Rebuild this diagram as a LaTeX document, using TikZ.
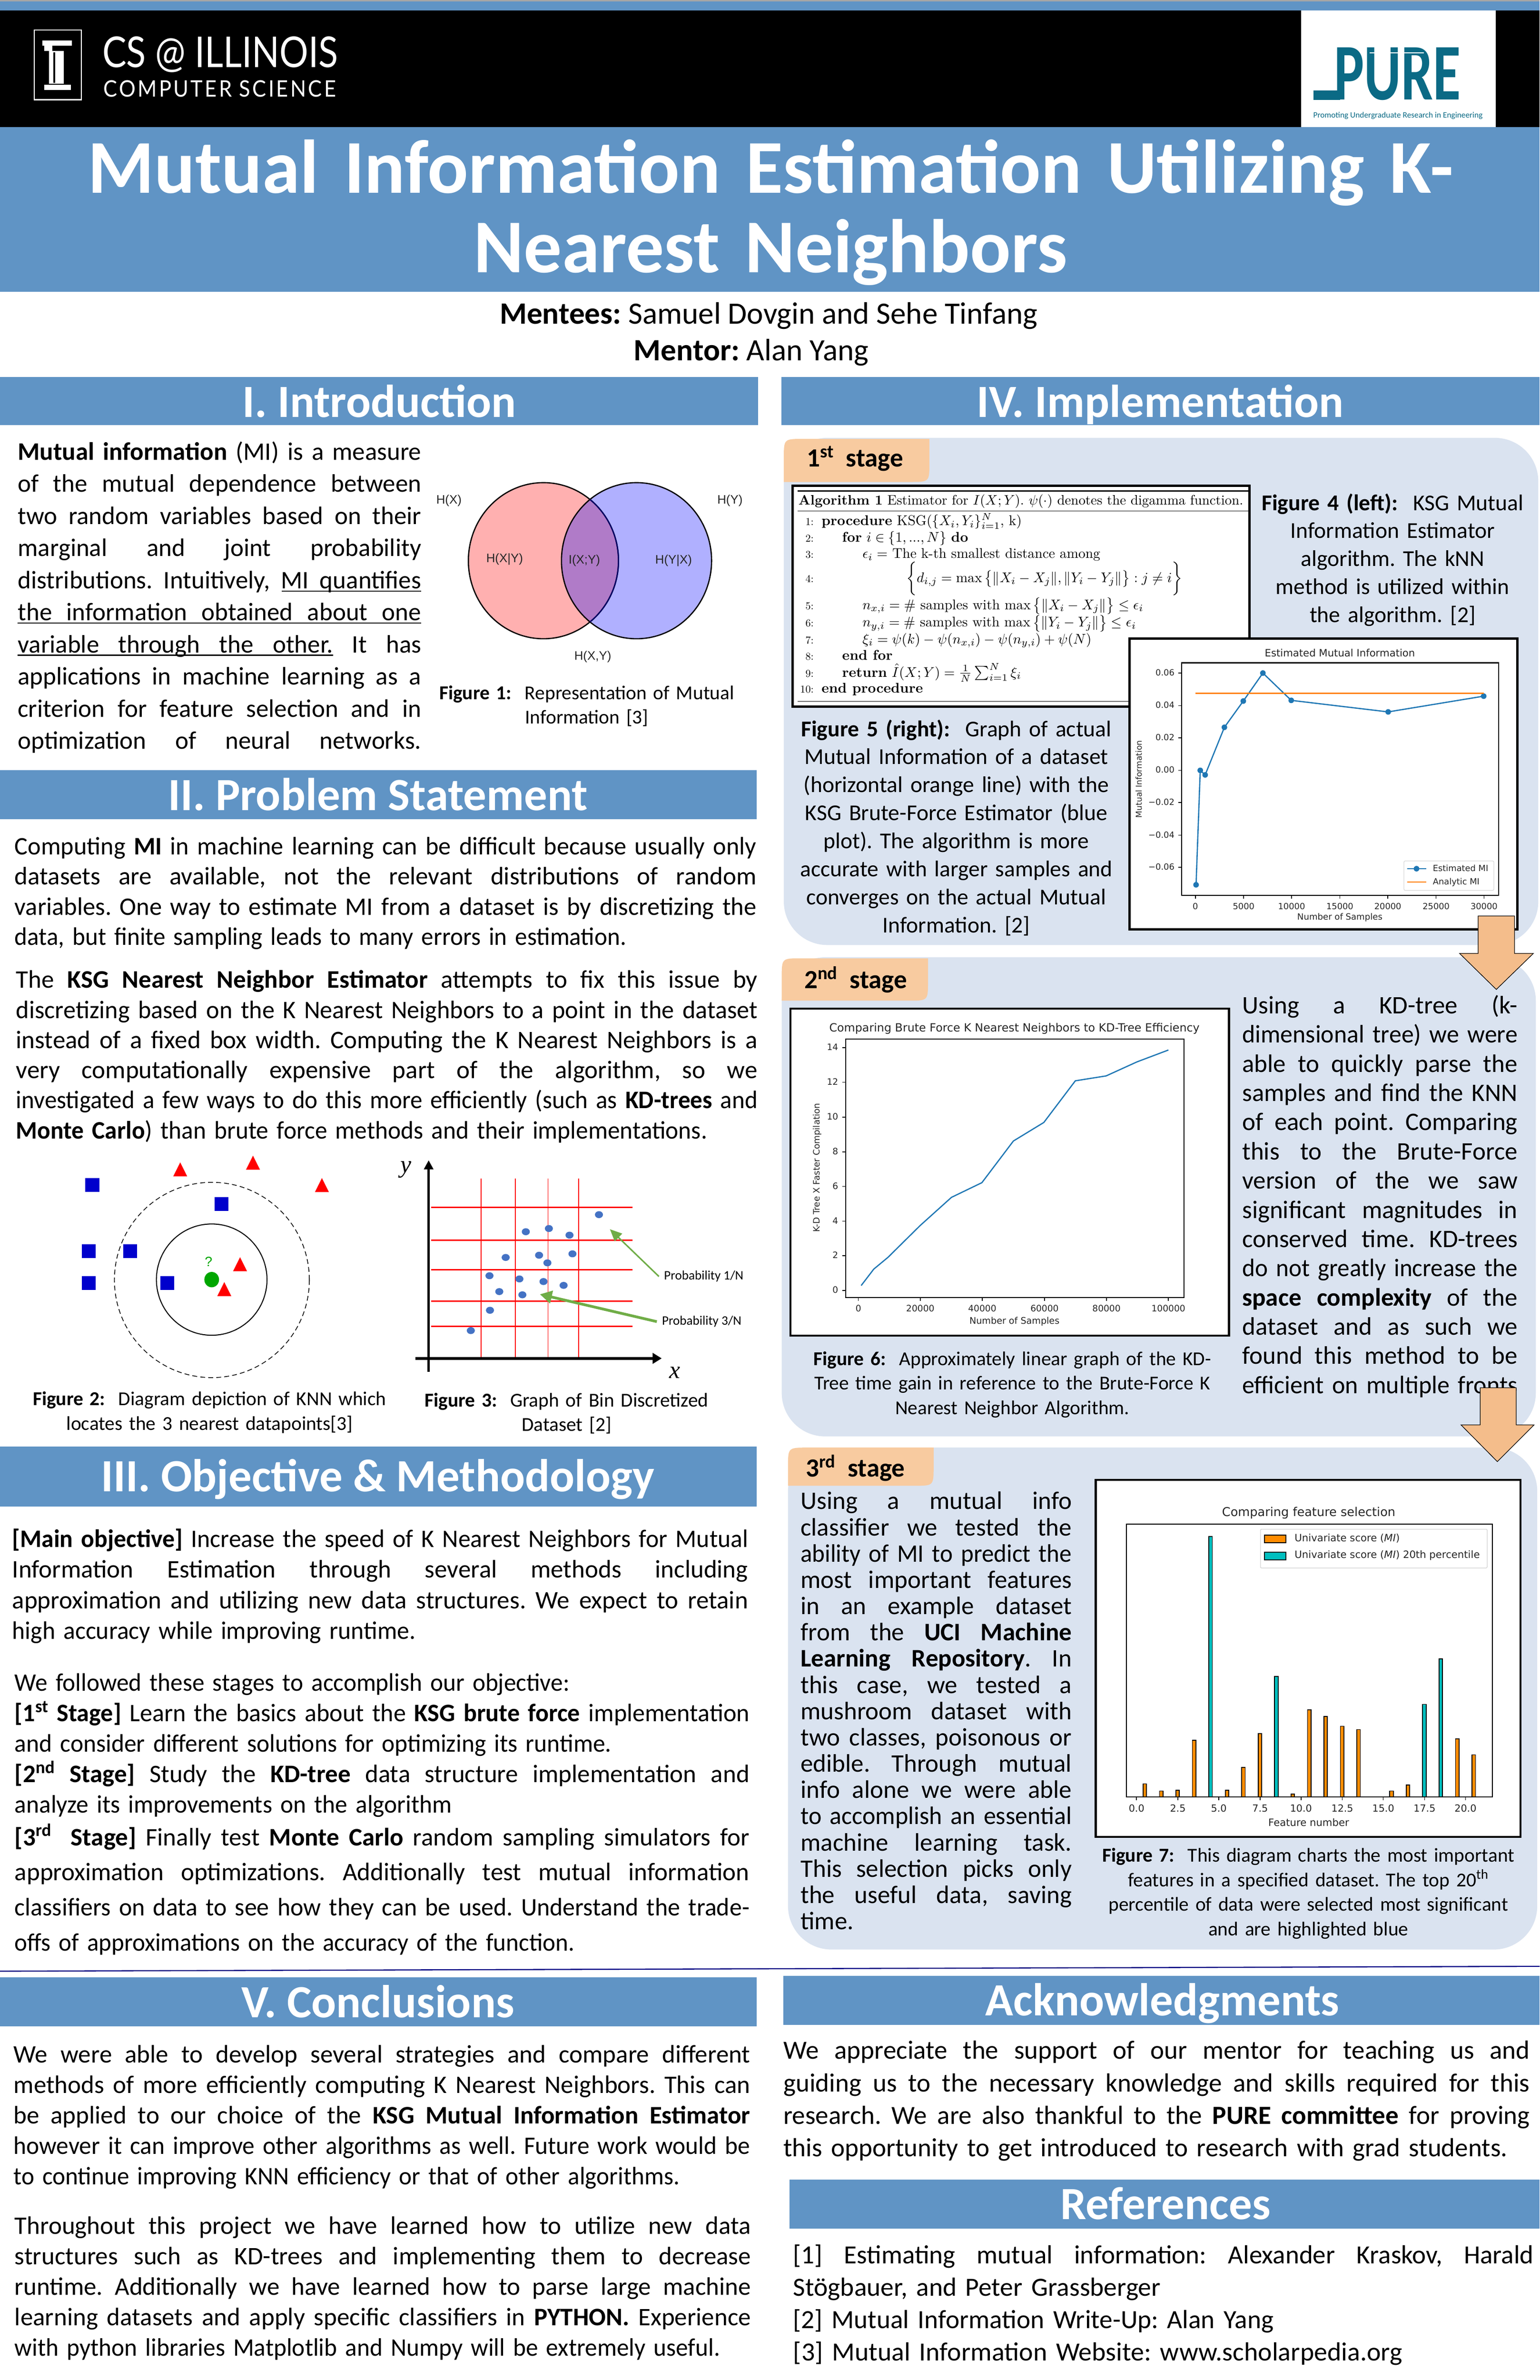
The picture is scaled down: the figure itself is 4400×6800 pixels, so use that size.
\documentclass[tikz,border=0pt]{standalone}
\usepackage{fontspec}
\usepackage{graphicx}
\usetikzlibrary{arrows.meta}
\newfontfamily\cb{Carlito}
\newfontfamily\djv{DejaVu Sans}
\newfontfamily\las{Liberation Sans}
\newfontfamily\lts{Liberation Serif}
\newfontfamily\lat{Lato}
\definecolor{band}{HTML}{6094C5}
\definecolor{panel}{HTML}{DAE3F0}
\definecolor{tabc}{HTML}{F8CBA0}
\definecolor{arrc}{HTML}{F4BD8B}
\definecolor{mplb}{HTML}{1F77B4}
\definecolor{mplo}{HTML}{FF7F0E}
\definecolor{barO}{HTML}{FF8C00}
\definecolor{barT}{HTML}{00BFBF}
\definecolor{greenA}{HTML}{70AD47}
\definecolor{dotb}{HTML}{4472C4}
\definecolor{pureT}{HTML}{0B6A85}
\definecolor{vennR}{HTML}{FFB0B0}
\definecolor{vennB}{HTML}{B0B0FF}
\definecolor{vennP}{HTML}{B07BC8}
\frenchspacing
\newdimen\pxu \pxu=0.28453pt
\newdimen\pitch
\newcommand\setp[1]{\pitch=#1\pxu\relax\baselineskip=\pitch\lineskiplimit=-200pt\relax\par\vskip-.25\pitch\relax}
\newcommand\sstrut{\vrule width 0pt height .75\pitch depth .25\pitch\relax}
\newcommand\JL[1]{\setbox0=\hbox{#1}%
  \ifdim\wd0>\hsize
    \pgfmathsetmacro\rr{\hsize/\wd0}\hbox to \hsize{\sstrut\scalebox{\rr}[1]{\box0}\hss}%
  \else
    \hbox to \hsize{\sstrut\spaceskip=.226em plus 1fil\relax #1}%
  \fi}
\newcommand\WL[2]{\setbox0=\hbox{#2}\pgfmathsetmacro\rr{#1*\pxu/\wd0}\hbox to \hsize{\sstrut\scalebox{\rr}[1]{\box0}\hss}}
\newcommand\LL[1]{\hbox to \hsize{\sstrut #1\hfil}}
\newcommand\CL[1]{\hbox to \hsize{\sstrut\hfil #1\hfil}}
\newcommand\fnt[1]{\fontsize{#1}{#1}\selectfont}
\newcommand\sps[1]{\textsuperscript{#1}}
\tikzset{
 para/.style={anchor=north west,inner sep=0pt,outer sep=0pt,text width={#1*0.01cm}},
 bodyA/.style={font={\cb\fnt{20.5}}},
 bodyB/.style={font={\cb\fnt{21.3}}},
 capA/.style={font={\cb\fnt{18.4}}},
 capB/.style={font={\cb\fnt{16.0}}},
 headtxt/.style={anchor=base,inner sep=0pt,text=white,font={\cb\bfseries\fnt{37.5}}},
 bandfill/.style={fill=band},
 panelfill/.style={fill=panel,rounded corners=1.24cm},
 tabfill/.style={fill=tabc},
 stagetxt/.style={anchor=base west,inner sep=0pt,font={\cb\bfseries\fnt{21.3}}},
 chartbox/.style={draw=black,line width=1.8pt,fill=white},
 axl/.style={draw=black,line width=0.9pt},
 tkm/.style={draw=black,line width=0.6pt},
 tickA/.style={inner sep=0pt,font={\djv\fnt{6.9}},text=black!85},
 tickB/.style={inner sep=0pt,font={\djv\fnt{7.2}},text=black!85},
 tickC/.style={inner sep=0pt,font={\djv\fnt{8}},text=black!85},
 arrowbox/.style={fill=arrc,draw=black,line width=0.5pt},
 alg/.style={inner sep=0pt,scale=1.14},
 algn/.style={anchor=base east,inner sep=0pt,scale=0.86},
 vlab/.style={inner sep=0pt,font={\las\fnt{10}},text=black!85},
 reddot/.style={fill=dotb},
 sq/.style={fill=blue!80!black},
 tri/.style={fill=red},
 gridr/.style={draw=red,line width=0.7pt},
 gridh/.style={draw=red,line width=1.1pt},
 plab/.style={anchor=west,inner sep=4pt,font={\cb\fnt{10.5}}},
 ulin/.style={draw=black,line width=1pt},
}
\begin{document}
\begin{tikzpicture}[x=0.01cm,y=-0.01cm]
\useasboundingbox (0,0) rectangle (4400,6800);
\fill[white] (0,0) rectangle (4400,6800);
% top bands
\fill[black!35] (0,0) rectangle (4400,4);
\fill[band] (0,4) rectangle (4400,30);
\fill[black] (0,30) rectangle (4400,363);
\fill[white] (3718,30) rectangle (4274,363);
\fill[band] (0,363) rectangle (4400,834);
% Illinois logo
\draw[white,line width=0.9pt] (98,86) rectangle (233,285);
\fill[white] (121,116) rectangle (205,130);
\fill[white] (126,130) rectangle (150,146);
\fill[white] (140,146) rectangle (182,239);
\fill[white] (126,242) rectangle (202,257);
\fill[black] (152,150) rectangle (158,236);
\node[anchor=base west,inner sep=0pt,text=white] (csill) at (292,193) {\scalebox{1}[1.18]{\lat\fnt{29.3}CS @ ILLINOIS}};
\node[anchor=base west,inner sep=0pt,text=white] (cscs) at (295,277) {\scalebox{1}[1.1]{\lat\addfontfeature{LetterSpace=10}\fnt{16.8}COMPUTER SCIENCE}};
% PURE logo
\node[anchor=base west,inner sep=0pt,text=pureT] (purel) at (3812,285) {\scalebox{1.0}[1.42]{\cb\bfseries\fnt{46}PURE}};
\fill[pureT] (3754,258) rectangle (3830,285);
\draw[white,line width=0.5pt] (3914,151) -- (4069,151);
\node[anchor=center,inner sep=0pt,text=pureT] (purem) at (3995,330) {\cb\fnt{6.7}Promoting Undergraduate Research in Engineering};
% title
\node[para=4404,text=white,font={\cb\bfseries\fnt{61.8}}] (title) at (0,380) {\setp{228}\CL{Mutual Information Estimation Utilizing K-}\CL{Nearest Neighbors}};
\node[anchor=base,inner sep=0pt,font={\cb\fnt{25.2}}] (mentees) at (2197,925) {\textbf{Mentees:} Samuel Dovgin and Sehe Tinfang};
\node[anchor=base,inner sep=0pt,font={\cb\fnt{25.2}}] (mentor) at (2147,1030) {\textbf{Mentor:} Alan Yang};
% section bands
\fill[bandfill] (0,1077) rectangle (2166,1214);
\fill[bandfill] (2233,1077) rectangle (4400,1214);
\fill[bandfill] (0,2201) rectangle (2163,2341);
\fill[bandfill] (0,4133) rectangle (2163,4305);
\fill[bandfill] (0,5650) rectangle (2163,5789);
\fill[bandfill] (2239,5645) rectangle (4400,5785);
\fill[bandfill] (2256,6228) rectangle (4400,6368);
\node[headtxt] (h1) at (1084,1192) {I. Introduction};
\node[headtxt] (h4) at (3316,1192) {IV. Implementation};
\node[headtxt] (h2) at (1080,2315) {II. Problem Statement};
\node[headtxt] (h3) at (1080,4261) {III. Objective \& Methodology};
\node[headtxt] (h5) at (1080,5764) {V. Conclusions};
\node[headtxt] (h6) at (3322,5759) {Acknowledgments};
\node[headtxt] (h7) at (3331,6341) {References};
% separator
\draw[draw=blue!50!black,line width=0.9pt] (0,5632) -- (4400,5618);
% Intro
\node[para=1153,bodyA] (intro) at (51,1245) {\setp{91.8}%
\JL{\textbf{Mutual information} (MI) is a measure}%
\JL{of the mutual dependence between}%
\JL{two random variables based on their}%
\JL{marginal and joint probability}%
\JL{distributions. Intuitively, MI quantifies}%
\JL{the information obtained about one}%
\JL{variable through the other. It has}%
\JL{applications in machine learning as a}%
\JL{criterion for feature selection and in}%
\JL{optimization of neural networks.}};
\draw[ulin] (805,1689) -- (1204,1689);
\draw[ulin] (50,1780) -- (1204,1780);
\draw[ulin] (50,1872) -- (952,1872);
% Venn
\fill[vennR] (1553,1602) ellipse [x radius=214.5,y radius=223];
\fill[vennB] (1819,1602) ellipse [x radius=214.5,y radius=223];
\begin{scope}
\clip (1553,1602) ellipse [x radius=214.5,y radius=223];
\fill[vennP] (1819,1602) ellipse [x radius=214.5,y radius=223];
\end{scope}
\draw[black,line width=1pt] (1553,1602) ellipse [x radius=214.5,y radius=223];
\draw[black,line width=1pt] (1819,1602) ellipse [x radius=214.5,y radius=223];
\begin{scope}
\clip (1819,1602) ellipse [x radius=214.5,y radius=223];
\draw[blue!40!black,line width=1pt] (1553,1602) ellipse [x radius=214.5,y radius=223];
\end{scope}
\node[vlab] (vx) at (1283,1430) {H(X)};
\node[vlab] (vy) at (2086,1430) {H(Y)};
\node[vlab] (vxy) at (1442,1598) {H(X|Y)};
\node[vlab] (vi) at (1670,1602) {I(X;Y)};
\node[vlab] (vyx) at (1925,1602) {H(Y|X)};
\node[vlab] (vj) at (1694,1876) {H(X,Y)};
\node[para=900,capB] (cap1) at (1227,1947) {\setp{69}\CL{\textbf{Figure 1:}\ \ Representation of Mutual}\CL{Information [3]}};
% Problem
\node[para=2120,bodyA] (p1) at (42,2377.5) {\setp{86}%
\JL{Computing \textbf{MI} in machine learning can be difficult because usually only}%
\JL{datasets are available, not the relevant distributions of random}%
\JL{variables. One way to estimate MI from a dataset is by discretizing the}%
\WL{1747}{data, but finite sampling leads to many errors in estimation.}};
\node[para=2119,bodyA] (p2) at (46,2758.5) {\setp{86}%
\JL{The \textbf{KSG Nearest Neighbor Estimator} attempts to fix this issue by}%
\JL{discretizing based on the K Nearest Neighbors to a point in the dataset}%
\JL{instead of a fixed box width. Computing the K Nearest Neighbors is a}%
\JL{very computationally expensive part of the algorithm, so we}%
\JL{investigated a few ways to do this more efficiently (such as \textbf{KD-trees} and}%
\WL{1974}{\textbf{Monte Carlo}) than brute force methods and their implementations.}};
% Fig 2
\draw[black,line width=0.6pt,dash pattern=on 4pt off 2.5pt] (605.5,3657) ellipse [x radius=278.5,y radius=279];
\draw[black,line width=0.8pt] (605,3656) ellipse [x radius=158,y radius=159];
\fill[green!65!black] (605,3656) ellipse [x radius=21,y radius=22];
\node[inner sep=0pt,text=green!65!black,font={\las\fnt{11}}] (qm) at (596,3605) {?};
\foreach \a/\b in {264/3386,633/3440,254/3575,372/3575,254/3666,478/3666}
  \fill[sq] (\a-20,\b-20) rectangle (\a+20,\b+20);
\foreach \a/\b in {515/3321,723/3302,920/3366,686/3592,641/3663}
  \fill[tri] (\a,\b) -- (\a+20,\b+40) -- (\a-20,\b+40) -- cycle;
% Fig 3
\foreach \a in {1375,1473,1566,1654} \draw[gridr] (\a,3367) -- (\a,3881);
\foreach \b in {3450,3543,3628,3718,3790} \draw[gridh] (1232,\b) -- (1808,\b);
\coordinate (yaB) at (1225,3920); \coordinate (yaT) at (1225,3315);
\coordinate (xaL) at (1187,3881); \coordinate (xaR) at (1891,3881);
\draw[black,line width=2pt,-{Triangle[length=7.4pt,width=7.4pt]}] (yaB) -- (yaT);
\draw[black,line width=2.4pt,-{Triangle[length=7.4pt,width=8.5pt]}] (xaL) -- (xaR);
\foreach \a/\b in {1220/384,1071/469,1118/453,1160/486,1030/597,1098/586,1166/579,1115/624,997/688,1058/704,1107/717,1148/736,1017/767,1064/783,998/860,959/961}
  \fill[reddot] ({1.403*\a},{3250+.574*\b}) ellipse [x radius=11.5,y radius=10];
\node[anchor=base,inner sep=0pt,font={\lts\itshape\fnt{20}}] (ylab) at (1160,3350) {y};
\node[anchor=base,inner sep=0pt,font={\lts\itshape\fnt{20}}] (xlab) at (1929,3938) {x};
\node[plab] (pa) at (1883,3647) {Probability 1/N};
\node[plab] (pb) at (1877,3776) {Probability 3/N};
\coordinate (paT) at (1743,3512); \coordinate (pbT) at (1543,3698);
\draw[greenA,line width=1.2pt,-{Triangle[length=9.7pt,width=8.5pt]}] (pa.west) -- (paT);
\draw[greenA,line width=2.2pt,-{Triangle[length=9.7pt,width=10.2pt]}] (pb.west) -- (pbT);
\node[para=1180,capB] (cap2) at (9,3963.5) {\setp{70}\CL{\textbf{Figure 2:}\ \ Diagram depiction of KNN which}\CL{locates the 3 nearest datapoints[3]}};
\node[para=900,capB] (cap3) at (1169,3966.5) {\setp{70}\CL{\textbf{Figure 3:}\ \ Graph of Bin Discretized}\CL{Dataset [2]}};
% Objective
\node[para=2103,bodyA] (o1) at (35,4356) {\setp{87}%
\JL{\textbf{[Main objective]} Increase the speed of K Nearest Neighbors for Mutual}%
\JL{Information Estimation through several methods including}%
\JL{approximation and utilizing new data structures. We expect to retain}%
\WL{1152}{high accuracy while improving runtime.}};
\node[para=2100,bodyA] (o2) at (42,4766) {\setp{87}%
\WL{1585}{We followed these stages to accomplish our objective:}%
\JL{\textbf{[1\sps{st} Stage]} Learn the basics about the \textbf{KSG brute force} implementation}%
\WL{1705}{and consider different solutions for optimizing its runtime.}%
\JL{\textbf{[2\sps{nd} Stage]} Study the \textbf{KD-tree} data structure implementation and}%
\WL{1249}{analyze its improvements on the algorithm}};
\node[para=2100,bodyA] (o3) at (42,5198) {\setp{100}%
\JL{\textbf{[3\sps{rd}\ \ Stage]} Finally test \textbf{Monte Carlo} random sampling simulators for}%
\JL{approximation optimizations. Additionally test mutual information}%
\JL{classifiers on data to see how they can be used. Understand the trade-}%
\WL{1599}{offs of approximations on the accuracy of the function.}};
% Conclusions
\node[para=2105,bodyA] (c1) at (39,5828) {\setp{87}%
\JL{We were able to develop several strategies and compare different}%
\JL{methods of more efficiently computing K Nearest Neighbors. This can}%
\JL{be applied to our choice of the \textbf{KSG Mutual Information Estimator}}%
\JL{however it can improve other algorithms as well. Future work would be}%
\WL{1902}{to continue improving KNN efficiency or that of other algorithms.}};
\node[para=2104,bodyA] (c2) at (42,6318) {\setp{87}%
\JL{Throughout this project we have learned how to utilize new data}%
\JL{structures such as KD-trees and implementing them to decrease}%
\JL{runtime. Additionally we have learned how to parse large machine}%
\JL{learning datasets and apply specific classifiers in \textbf{PYTHON.} Experience}%
\WL{2015}{with python libraries Matplotlib and Numpy will be extremely useful.}};
% Ack
\node[para=2133,bodyB] (ack) at (2239,5813.5) {\setp{92.7}%
\JL{We appreciate the support of our mentor for teaching us and}%
\JL{guiding us to the necessary knowledge and skills required for this}%
\JL{research. We are also thankful to the \textbf{PURE committee} for proving}%
\WL{2068}{this opportunity to get introduced to research with grad students.}};
\node[para=2116,bodyB] (refs) at (2267,6397.5) {\setp{92.7}%
\JL{[1] Estimating mutual information: Alexander Kraskov, Harald}%
\WL{1049}{Stögbauer, and Peter Grassberger}%
\WL{1372}{[2] Mutual Information Write-Up: Alan Yang}%
\WL{1740}{[3] Mutual Information Website: www.scholarpedia.org}};
% Panels
\fill[panelfill] (2240,1251) rectangle (4396,2700);
\fill[panelfill] (2234,2735) rectangle (4389,4104);
\fill[panelfill] (2252,4136) rectangle (4393,5570);
\fill[tabfill] (2240,1377) -- (2240,1309) .. controls (2240,1254) .. (2295,1254) -- (2656,1254) -- (2656,1322) .. controls (2656,1377) .. (2601,1377) -- cycle;
\fill[tabfill] (2234,2859) -- (2234,2793) .. controls (2234,2738) .. (2289,2738) -- (2652,2738) -- (2652,2804) .. controls (2652,2859) .. (2597,2859) -- cycle;
\fill[tabfill] (2252,4245) -- (2252,4191) .. controls (2252,4136) .. (2307,4136) -- (2668,4136) -- (2668,4190) .. controls (2668,4245) .. (2613,4245) -- cycle;
\node[stagetxt] (s1) at (2305,1334) {1\sps{st}\ \ stage};
\node[stagetxt] (s2) at (2298,2824) {2\sps{nd}\ \ stage};
\node[stagetxt] (s3) at (2302,4220) {3\sps{rd}\ \ stage};
% Algorithm
\draw[chartbox] (2265,1388) rectangle (3571,2019);
\draw[black,line width=0.9pt] (2280,1403) -- (3568,1403);
\draw[black,line width=0.4pt] (2280,1460) -- (3568,1460);
\draw[black,line width=0.6pt] (2280,2004) -- (3568,2004);
\node[alg,scale=0.98,anchor=base west] (alg0) at (2281,1442) {\textbf{Algorithm 1} Estimator for $I(X;Y)$. $\psi(\cdot)$ denotes the digamma function.};
\foreach \i/\b in {1/1501,2/1549,3/1595,4/1664,5/1741,6/1791,7/1839,8/1886,9/1934,10/1980}
  \node[algn] (num\i) at (2326,\b) {\i:};
\node[alg,anchor=base west] (alg1) at (2347,1501) {\textbf{procedure} KSG($\{X_i,Y_i\}_{i=1}^N$, k)};
\node[alg,anchor=base west] (alg2) at (2406,1549) {\textbf{for} $i\in\{1,...,N\}$ \textbf{do}};
\node[alg,anchor=base west] (alg3) at (2464,1595) {$\epsilon_i =$ The k-th smallest distance among};
\node[alg,anchor=base west] (alg4) at (2589,1664) {$\bigg\{d_{i,j}=\max\big\{\|X_i-X_j\|,\|Y_i-Y_j\|\big\}:j\neq i\bigg\}$};
\node[alg,anchor=base west] (alg5) at (2464,1741) {$n_{x,i}=\#$ samples with $\max\big\{\|X_i-X_j\|\big\}\leq\epsilon_i$};
\node[alg,anchor=base west] (alg6) at (2464,1791) {$n_{y,i}=\#$ samples with $\max\big\{\|Y_i-Y_j\|\big\}\leq\epsilon_i$};
\node[alg,anchor=base west] (alg7) at (2464,1839) {$\xi_i=\psi(k)-\psi(n_{x,i})-\psi(n_{y,i})+\psi(N)$};
\node[alg,anchor=base west] (alg8) at (2406,1886) {\textbf{end for}};
\node[alg,anchor=base west] (alg9) at (2406,1934) {\textbf{return} $\hat I(X;Y)=\frac{1}{N}\sum_{i=1}^N\xi_i$};
\node[alg,anchor=base west] (alg10) at (2347,1980) {\textbf{end procedure}};
% Fig 4 caption
\node[para=780,capA] (cap4) at (3590,1398) {\setp{80}\CL{\textbf{Figure 4 (left):}\ \ KSG Mutual}\CL{Information Estimator}\CL{algorithm. The kNN}\CL{method is utilized within}\CL{the algorithm. [2]}};
% Fig 5 caption
\node[para=920,capA] (cap5) at (2273,2044) {\setp{80}\CL{\textbf{Figure 5 (right):}\ \ Graph of actual}\CL{Mutual Information of a dataset}\CL{(horizontal orange line) with the}\CL{KSG Brute-Force Estimator (blue}\CL{plot). The algorithm is more}\CL{accurate with larger samples and}\CL{converges on the actual Mutual}\CL{Information. [2]}};
% Fig 5 chart
\draw[chartbox] (3228,1824) rectangle (4336,2655);
\draw[axl] (3377,1894) rectangle (4283,2558);
\foreach \x/\l in {3416/0,3554/5000,3691/10000,3829/15000,3966/20000,4104/25000,4241/30000}{
  \draw[tkm] (\x,2558) -- (\x,2568);
  \node[tickA,anchor=base] (f5x\l) at (\x,2598) {\l};
}
\foreach \y/\l/\n in {1923/0.06/a,2016/0.04/b,2108/0.02/c,2201/0.00/d,2293/−0.02/e,2386/−0.04/f,2478/−0.06/g}{
  \draw[tkm] (3367,\y) -- (3377,\y);
  \node[tickA,anchor=mid east] (f5y\n) at (3357,\y) {\l};
}
\node[inner sep=0pt,font={\djv\fnt{8.2}},text=black!85] (f5t) at (3829,1866) {Estimated Mutual Information};
\node[inner sep=0pt,font={\djv\fnt{7}},text=black!85] (f5xl) at (3829,2621) {Number of Samples};
\node[inner sep=0pt,font={\djv\fnt{6.6}},text=black!85,rotate=90] (f5yl) at (3254,2226) {Mutual Information};
\draw[mplb,line width=1pt] (3418,2528) -- (3430,2201) -- (3444,2214) -- (3499,2078) -- (3553,2003) -- (3609,1923) -- (3690,2001) -- (3967,2034) -- (4240,1989);
\foreach \x/\y in {3418/2528,3430/2201,3444/2214,3499/2078,3553/2003,3609/1923,3690/2001,3967/2034,4240/1989}
  \fill[mplb] (\x,\y) circle (8);
\draw[mplo,line width=1pt] (3416,1981) -- (4241,1981);
\draw[black!15,fill=white,line width=0.5pt,rounded corners=1pt] (4012,2460) rectangle (4269,2544);
\draw[mplb,line width=1pt] (4021,2482) -- (4076,2482);
\fill[mplb] (4048,2482) circle (8);
\draw[mplo,line width=1pt] (4021,2520) -- (4076,2520);
\node[tickA,anchor=mid west] (f5l1) at (4094,2482) {Estimated MI};
\node[tickA,anchor=mid west] (f5l2) at (4094,2520) {Analytic MI};
% Fig 6 chart
\draw[chartbox] (2259,2882) rectangle (3512,3816);
\draw[axl] (2417,2969) rectangle (3384,3707);
\foreach \x/\l in {2453/0,2630/20000,2807/40000,2985/60000,3162/80000,3339/100000}{
  \draw[tkm] (\x,3707) -- (\x,3717);
  \node[tickB,anchor=base] (f6x\l) at (\x,3748) {\l};
}
\foreach \y/\l in {2993/14,3092/12,3192/10,3291/8,3390/6,3489/4,3588/2,3687/0}{
  \draw[tkm] (2407,\y) -- (2417,\y);
  \node[tickB,anchor=mid east] (f6y\l) at (2396,\y) {\l};
}
\node[inner sep=0pt,font={\djv\fnt{9.2}},text=black!85] (f6t) at (2899,2939) {Comparing Brute Force K Nearest Neighbors to KD-Tree Efficiency};
\node[inner sep=0pt,font={\djv\fnt{7.4}},text=black!85] (f6xl) at (2899,3776) {Number of Samples};
\node[inner sep=0pt,font={\djv\fnt{7.1}},text=black!85,rotate=90] (f6yl) at (2335,3336) {K-D Tree X Faster Compilation};
\draw[mplb,line width=1pt] (2461,3673) -- (2497,3626) -- (2538,3592) -- (2629,3502) -- (2719,3421) -- (2806,3379) -- (2896,3260) -- (2983,3207) -- (3073,3088) -- (3161,3074) -- (3249,3034) -- (3339,3000);
\node[para=1200,capB] (cap6) at (2293,3848.5) {\setp{70}\CL{\textbf{Figure 6:}\ \ Approximately linear graph of the KD-}\CL{Tree time gain in reference to the Brute-Force K}\CL{Nearest Neighbor Algorithm.}};
% Stage 2 text
\node[para=787,bodyA] (kd) at (3550,2833.5) {\setp{83.4}%
\JL{Using a KD-tree (k-}%
\JL{dimensional tree) we were}%
\JL{able to quickly parse the}%
\JL{samples and find the KNN}%
\JL{of each point. Comparing}%
\JL{this to the Brute-Force}%
\JL{version of the we saw}%
\JL{significant magnitudes in}%
\JL{conserved time. KD-trees}%
\JL{do not greatly increase the}%
\JL{\textbf{space complexity} of the}%
\JL{dataset and as such we}%
\JL{found this method to be}%
\JL{efficient on multiple fronts}};
% Stage 3 text
\node[para=775,bodyA] (st3) at (2288,4256) {\setp{75}%
\JL{Using a mutual info}%
\JL{classifier we tested the}%
\JL{ability of MI to predict the}%
\JL{most important features}%
\JL{in an example dataset}%
\JL{from the \textbf{UCI Machine}}%
\JL{\textbf{Learning Repository}. In}%
\JL{this case, we tested a}%
\JL{mushroom dataset with}%
\JL{two classes, poisonous or}%
\JL{edible. Through mutual}%
\JL{info alone we were able}%
\JL{to accomplish an essential}%
\JL{machine learning task.}%
\JL{This selection picks only}%
\JL{the useful data, saving}%
\LL{time.}};
% Fig 7 chart
\draw[chartbox] (3131,4228) rectangle (4345,5248);
\draw[axl] (3219,4355) rectangle (4265,5134);
\foreach \i/\t/\c in {0.5/1327/barO,1.5/1359/barO,2.5/1356/barO,3.5/1132/barO,4.5/220/barT,5.5/1356/barO,6.5/1254/barO,7.5/1102/barO,8.5/846/barT,9.5/1373/barO,10.5/995/barO,11.5/1025/barO,12.5/1069/barO,13.5/1084/barO,15.5/1359/barO,16.5/1333/barO,17.5/971/barT,18.5/768/barT,19.5/1125/barO,20.5/1197/barO}
  \filldraw[fill=\c,draw=black,line width=0.7pt] ({3248+47*\i-5},5134) rectangle ({3248+47*\i+5},{4250+.638*\t});
\foreach \x/\l/\n in {3248/0.0/a,3366/2.5/b,3483/5.0/c,3601/7.5/d,3718/10.0/e,3836/12.5/f,3953/15.0/g,4071/17.5/h,4188/20.0/i}{
  \draw[tkm] (\x,5134) -- (\x,5144);
  \node[tickC,anchor=base] (f7x\n) at (\x,5177) {\l};
}
\node[inner sep=0pt,font={\djv\fnt{9.9}},text=black!85] (f7t) at (3740,4323) {Comparing feature selection};
\node[inner sep=0pt,font={\djv\fnt{8.2}},text=black!85] (f7xl) at (3740,5207) {Feature number};
\draw[black!15,fill=white,line width=0.6pt,rounded corners=1pt] (3602,4369) rectangle (4250,4480);
\filldraw[fill=barO,draw=black,line width=0.7pt] (3614,4386) rectangle (3675,4408);
\filldraw[fill=barT,draw=black,line width=0.7pt] (3614,4435) rectangle (3675,4457);
\node[tickC,anchor=mid west,font={\djv\fnt{8.2}}] (f7l1) at (3699,4397) {Univariate score ({\itshape MI})};
\node[tickC,anchor=mid west,font={\djv\fnt{8.2}}] (f7l2) at (3699,4445) {Univariate score ({\itshape MI}) 20th percentile};
\node[para=1200,capB] (cap7) at (3139,5267.5) {\setp{70}\CL{\textbf{Figure 7:}\ \ This diagram charts the most important}\CL{features in a specified dataset. The top 20\sps{th}}\CL{percentile of data were selected most significant}\CL{and are highlighted blue}};
% arrows
\draw[arrowbox] (4224,2617) -- (4328,2617) -- (4328,2724) -- (4382,2724) -- (4276,2827) -- (4171,2724) -- (4224,2724) -- cycle;
\draw[arrowbox] (4230,3965) -- (4333,3965) -- (4333,4071) -- (4384,4071) -- (4279,4176) -- (4175,4071) -- (4230,4071) -- cycle;
\end{tikzpicture}
\end{document}
